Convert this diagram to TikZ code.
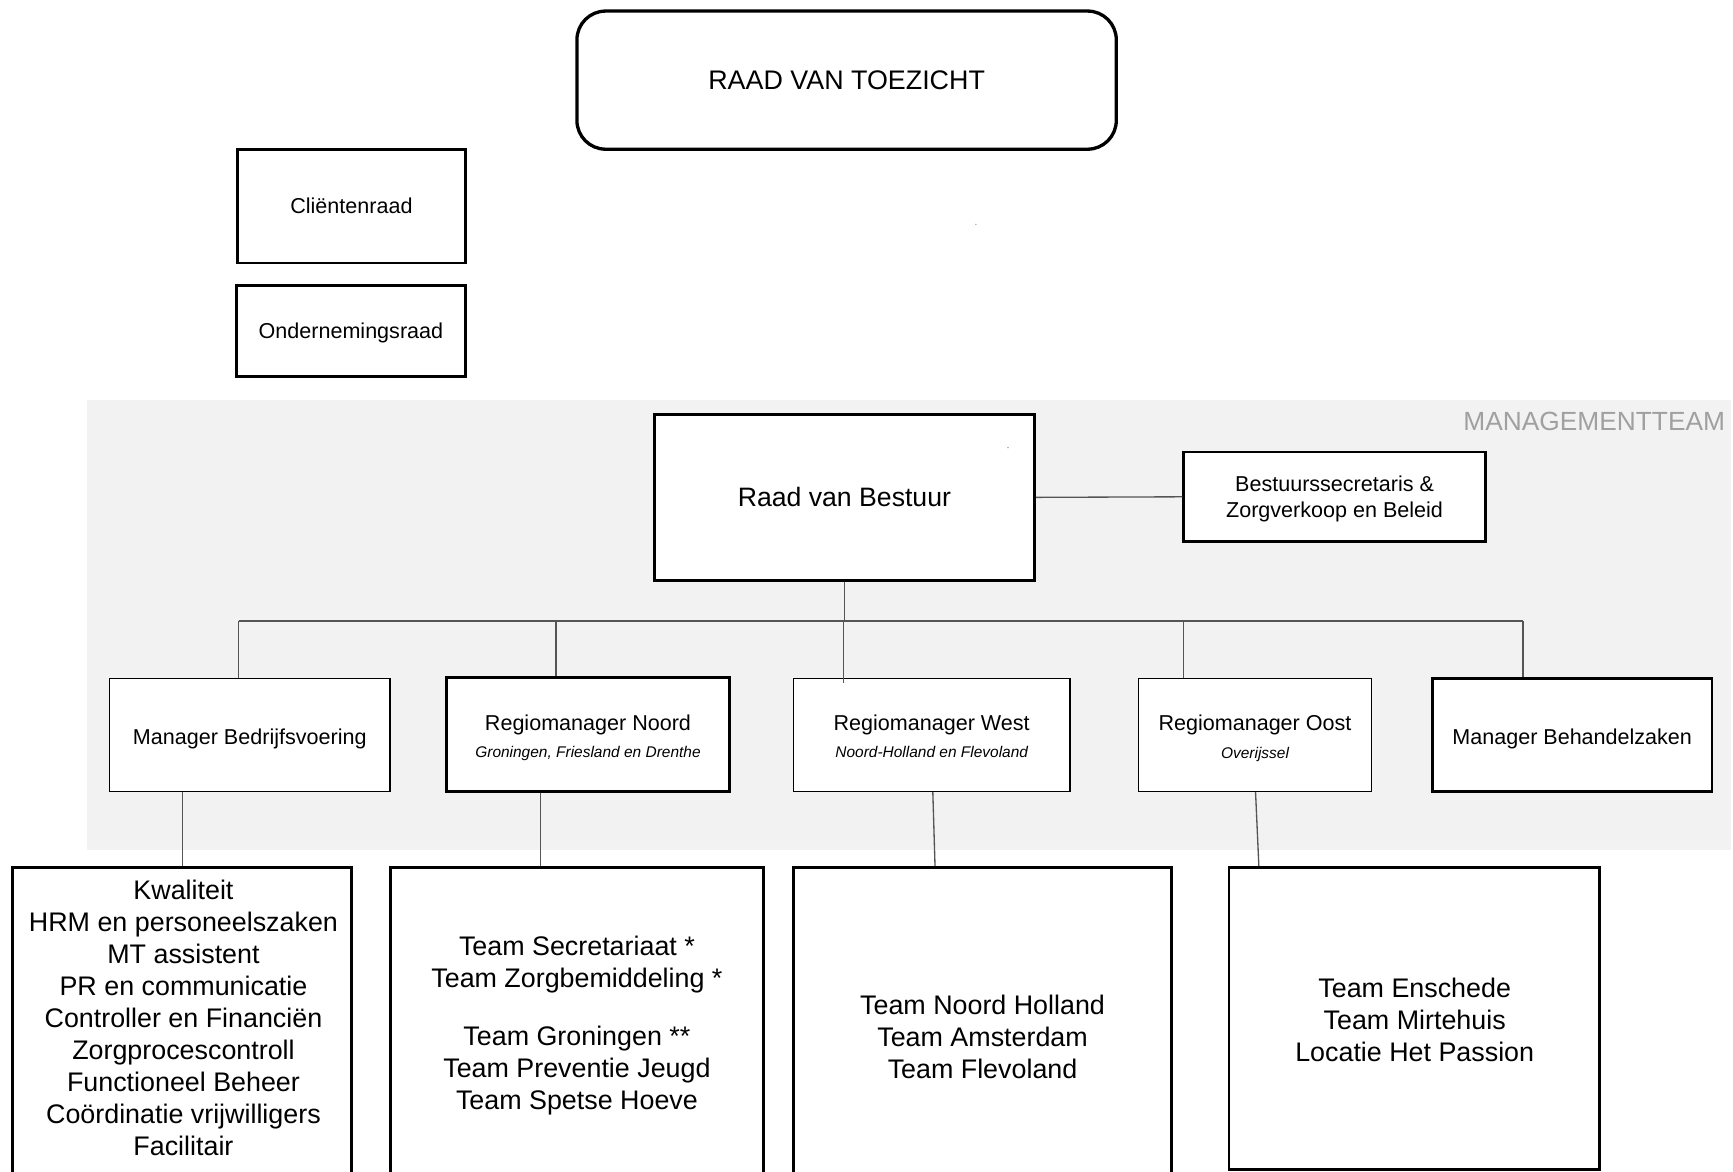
\documentclass[tikz,border=0pt]{standalone}
\usepackage{fontspec}
\setmainfont{Liberation Sans}
\definecolor{bandgray}{HTML}{F2F2F2}
\definecolor{linegray}{HTML}{555555}
\definecolor{titlegray}{HTML}{A0A0A0}
\tikzset{
  thickbox/.style={draw=black, line width=2.6pt, fill=white, inner sep=0pt},
  thinbox/.style={draw=black, line width=1.5pt, fill=white, inner sep=0pt},
  conn/.style={draw=linegray, line width=1.2pt},
  bigtxt/.style={font=\fontsize{24.3}{29}\selectfont, align=center, inner sep=0pt},
  midtxt/.style={font=\fontsize{19.5}{24}\selectfont, align=center, inner sep=0pt},
  regtxt/.style={font=\fontsize{19.5}{25}\selectfont, align=center, inner sep=0pt},
}
\newcommand{\subtxt}[1]{{\fontsize{14}{17}\selectfont\itshape #1}}
\begin{document}
\begin{tikzpicture}[x=1pt,y=-1pt]
\useasboundingbox (0,0) rectangle (1568,1060);
\clip (0,0) rectangle (1568,1060);
\fill[white] (0,0) rectangle (1568,1060);
% management band
\fill[bandgray] (79,362) rectangle (1566,769);
\node[font=\fontsize{23.8}{26}\selectfont, text=titlegray, anchor=north east, inner sep=0pt] (mt) at (1561,372.5) {MANAGEMENTTEAM};

% top
\node[thickbox, line width=3pt, rounded corners=26pt, minimum width=488pt, minimum height=125pt, font=\fontsize{24.3}{29}\selectfont] (rvt) at (766,72.5) {RAAD VAN TOEZICHT};
\node[thickbox, minimum width=206pt, minimum height=103pt] (clr) at (318,186.5) {};
\node[midtxt] (clrt) at (clr) {Cliëntenraad};
\node[thickbox, minimum width=207pt, minimum height=83pt] (ondr) at (317.5,299.5) {};
\node[midtxt] (ondrt) at ([yshift=-2pt]ondr.center) {Ondernemingsraad};
\fill[gray] (883,203) circle (0.6pt);

% management team
\node[thickbox, minimum width=344pt, minimum height=150pt, font=\fontsize{24.1}{29}\selectfont] (rvb) at (764,450) {Raad van Bestuur};
\fill[gray] (912,405) circle (0.6pt);
\node[thickbox, minimum width=273pt, minimum height=81pt] (bs) at (1207.5,449.5) {};
\node[midtxt] (bst) at ([yshift=-2pt]bs.center) {Bestuurssecretaris \&\\Zorgverkoop en Beleid};

\node[thinbox, minimum width=254pt, minimum height=102pt] (mb) at (226,665) {};
\node[midtxt] (mbt) at ([yshift=-4pt]mb.center) {Manager Bedrijfsvoering};
\node[thickbox, minimum width=256pt, minimum height=103pt] (rn) at (532,664.5) {};
\node[regtxt] (rnt) at ([yshift=-3pt]rn.center) {Regiomanager Noord\\\subtxt{Groningen, Friesland en Drenthe}};
\node[thinbox, minimum width=250pt, minimum height=102pt] (rw) at (843,665) {};
\node[regtxt] (rwt) at ([yshift=-1pt]rw.center) {Regiomanager West\\\subtxt{Noord-Holland en Flevoland}};
\node[thinbox, minimum width=211pt, minimum height=102pt] (ro) at (1135.5,665) {};
\node[regtxt] (rot) at ([yshift=-3pt]ro.center) {Regiomanager Oost\\\subtxt{Overijssel}};
\node[thickbox, minimum width=253pt, minimum height=102pt] (mbz) at (1422.5,665) {};
\node[midtxt] (mbzt) at ([yshift=-4pt]mbz.center) {Manager Behandelzaken};

% connectors in management team
\draw[conn] (rvb.east) -- (bs.west);
\coordinate (bus) at (764,562);
\draw[conn] (rvb.south) -- (bus);
\coordinate (busL) at (216,562);
\coordinate (busR) at (1378,562);
\draw[conn] (busL) -- (busR);
\draw[conn] (busL) -- (busL |- mb.north);
\draw[conn] (bus -| 503,0) -- (503,0 |- rn.north);
\draw[conn] (763,562) -- ([yshift=-5pt]763,0 |- rw.north);
\draw[conn] (bus -| 1071,0) -- (1071,0 |- ro.north);
\draw[conn] (busR) -- (busR |- mbz.north);

% bottom boxes
\node[thickbox, minimum width=307pt, minimum height=320pt] (b1) at (164.5,945) {};
\node[thickbox, minimum width=338pt, minimum height=320pt] (b2) at (522,945) {};
\node[thickbox, minimum width=342pt, minimum height=320pt] (b3) at (889,945) {};
\node[thickbox, minimum width=335pt, minimum height=273pt] (b4) at (1279.5,921.5) {};

\node[bigtxt] (b1t) at (166,921) {Kwaliteit\\HRM en personeelszaken\\MT assistent\\PR en communicatie\\Controller en Financiën\\Zorgprocescontroll\\Functioneel Beheer\\Coördinatie vrijwilligers\\Facilitair};
\node[bigtxt] (b2t) at (522,928) {Team Secretariaat *\\Team Zorgbemiddeling *\\[24pt]Team Groningen **\\Team Preventie Jeugd\\Team Spetse Hoeve};
\node[bigtxt] (b3t) at (889,938) {Team Noord Holland\\Team Amsterdam\\Team Flevoland};
\node[bigtxt] (b4t) at (1280,923) {Team Enschede\\Team Mirtehuis\\Locatie Het Passion};

% connectors down
\draw[conn] (mb.south -| 165,0) -- (165,0 |- b1.north);
\draw[conn] (rn.south -| 489,0) -- (489,0 |- b2.north);
\draw[conn] (rw.south -| 844,0) -- (846,0 |- b3.north);
\draw[conn] (ro.south -| 1136,0) -- (1139,0 |- b4.north);
\end{tikzpicture}
\end{document}
